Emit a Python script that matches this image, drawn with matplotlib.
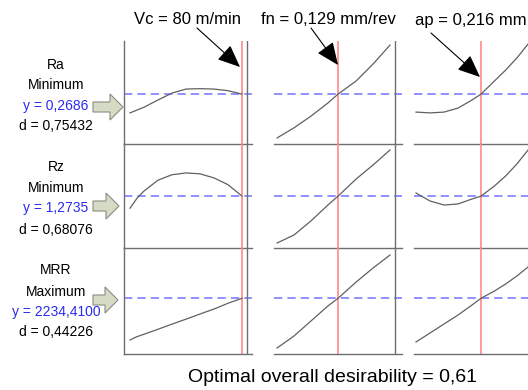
import matplotlib
matplotlib.use('Agg')
import matplotlib.pyplot as plt
from matplotlib.patches import Polygon, FancyArrowPatch

plt.rcParams['font.family'] = ['Liberation Sans', 'DejaVu Sans']

# factor settings at the optimum
factor_labels = ['Vc = 80 m/min', 'fn = 0,129 mm/rev', 'ap = 0,216 mm']
optimum = [80, 0.129, 0.216]
factor_high = [81.8, 0.1794, 0.305]

# factor grids
vc = [40, 42.5, 45, 50, 55, 60, 65, 70, 75, 80]
fn = [0.075, 0.09, 0.105, 0.12, 0.129, 0.145, 0.16, 0.175]
ap = [0.1, 0.125, 0.15, 0.175, 0.2, 0.216, 0.24, 0.26, 0.28, 0.30]

# predicted responses along each factor
ra_vc = [0.222, 0.229, 0.236, 0.254, 0.271, 0.281, 0.282, 0.281, 0.277, 0.2686]
ra_fn = [0.160, 0.185, 0.214, 0.2465, 0.2686, 0.301, 0.343, 0.390]
ra_ap = [0.224, 0.222, 0.224, 0.234, 0.254, 0.2686, 0.301, 0.328, 0.358, 0.3925]

rz_vc = [1.14, 1.25, 1.33, 1.45, 1.51, 1.53, 1.52, 1.475, 1.40, 1.2735]
rz_fn = [0.755, 0.844, 0.999, 1.175, 1.2735, 1.463, 1.618, 1.784]
rz_ap = [1.308, 1.220, 1.175, 1.187, 1.242, 1.2735, 1.386, 1.496, 1.629, 1.784]

mrr_vc = [936, 1040, 1115, 1270, 1430, 1585, 1745, 1900, 2080, 2234.41]
mrr_fn = [687, 1060, 1527, 1994, 2234.41, 2741, 3177, 3582]
mrr_ap = [874, 1154, 1434, 1714, 2025, 2234.41, 2461, 2679, 2928, 3208]

responses = ['Ra', 'Rz', 'MRR']
goals = ['Minimum', 'Minimum', 'Maximum']
y_opt = [0.2686, 1.2735, 2234.41]
y_text = ['y = 0,2686', 'y = 1,2735', 'y = 2234,4100']
d_text = ['d = 0,75432', 'd = 0,68076', 'd = 0,44226']
overall = 'Optimal overall desirability = 0,61'

W, H = 528, 390
fig = plt.figure(figsize=(W / 100, H / 100), dpi=100)


def fx(x):
    return x / W


def fy(y):
    return 1 - y / H


cols = [(124, 252), (274, 402), (414, 560)]
rows = [(41, 144), (144, 248), (248, 354)]
xlims = [(37.86, 83.57), (0.0723, 0.1856), (0.0964, 0.357)]
ylims = [(0.145, 0.40), (0.70, 1.85), (500, 3800)]
xs = [vc, fn, ap]
curves = [[ra_vc, ra_fn, ra_ap], [rz_vc, rz_fn, rz_ap], [mrr_vc, mrr_fn, mrr_ap]]

gray = '#6e6e6e'
for r, (top, bot) in enumerate(rows):
    for c, (left, right) in enumerate(cols):
        ax = fig.add_axes([fx(left), fy(bot), (right - left) / W, (bot - top) / H])
        ax.set_xlim(xlims[c])
        ax.set_ylim(ylims[r])
        ax.set_xticks([])
        ax.set_yticks([])
        for s in ['top', 'right', 'left']:
            ax.spines[s].set_visible(False)
        ax.spines['bottom'].set_color(gray)
        ax.spines['bottom'].set_linewidth(1.0)
        if c == 0:
            ax.spines['left'].set_visible(True)
            ax.spines['left'].set_color(gray)
            ax.spines['left'].set_linewidth(1.0)
        ax.patch.set_alpha(0)
        ax.axhline(y_opt[r], color='#8888ff', lw=1.3, ls=(0, (4.6, 2.8)))
        ax.axvline(factor_high[c], color=gray, lw=1.0)
        ax.axvline(optimum[c], color='#ff8a8a', lw=1.2)
        ax.plot(xs[c], curves[r][c], color='#606060', lw=0.9)

# response labels on the left
label_y = [[65, 85, 106, 126], [167, 188, 208, 230], [270, 292, 312, 332]]
for r in range(3):
    ly = label_y[r]
    fig.text(fx(56), fy(ly[0]), responses[r], ha='center', va='center', fontsize=10)
    fig.text(fx(56), fy(ly[1]), goals[r], ha='center', va='center', fontsize=10)
    fig.text(fx(56), fy(ly[2]), y_text[r], ha='center', va='center', fontsize=10,
             color='#2a2af0')
    fig.text(fx(56), fy(ly[3]), d_text[r], ha='center', va='center', fontsize=10)

# block arrows pointing at the panels
arrows = [(107, 123), (206, 119), (300, 118)]
for cy, tip in arrows:
    x0, xh = 93, tip - 13
    pts = [(x0, cy - 5), (xh, cy - 5), (xh, cy - 13), (tip, cy),
           (xh, cy + 13), (xh, cy + 5), (x0, cy + 5)]
    poly = Polygon([(fx(a), fy(b)) for a, b in pts], closed=True,
                   transform=fig.transFigure, facecolor='#d6dbc6',
                   edgecolor='#8c8c84', lw=0.8)
    fig.add_artist(poly)

# factor labels with pointers
label_pos = [(187, 20, 'center'), (328, 20, 'center'), (527, 20, 'right')]
pointers = [((197, 28), (240, 67)), ((311, 28), (338, 65)), ((431, 33), (480, 77))]
for c in range(3):
    lx, ly, ha = label_pos[c]
    fig.text(fx(lx), fy(ly), factor_labels[c], ha=ha, va='center', fontsize=12)
    (ax0, ay0), (ax1, ay1) = pointers[c]
    arr = FancyArrowPatch((fx(ax0), fy(ay0)), (fx(ax1), fy(ay1)),
                          transform=fig.transFigure,
                          arrowstyle='-|>,head_length=14,head_width=6',
                          color='black', lw=0.8, shrinkA=0, shrinkB=0)
    fig.add_artist(arr)

fig.text(fx(332), fy(377), overall, ha='center', va='center', fontsize=14)

fig.savefig('out.png', dpi=100)
